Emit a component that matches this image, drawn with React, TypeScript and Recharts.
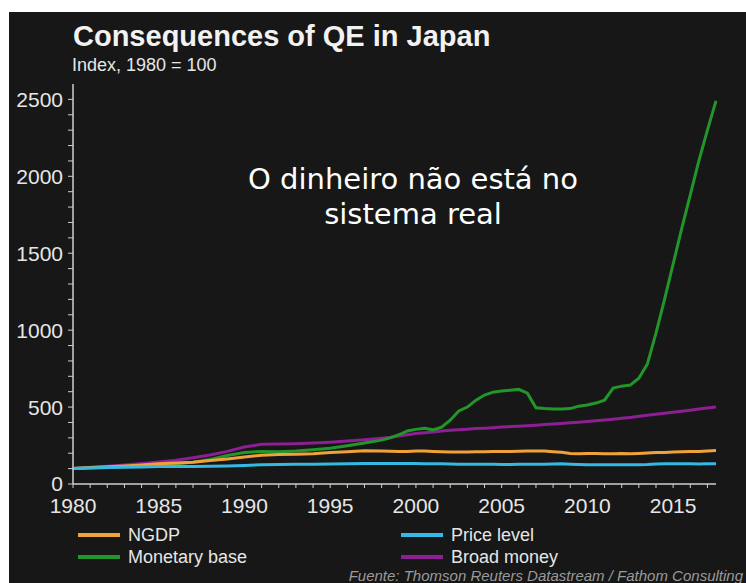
import React from 'react';
import { LineChart, Line, XAxis, YAxis } from 'recharts';

const years = [
  1980, 1981, 1982, 1983, 1984, 1985, 1986, 1987, 1988, 1989, 1990, 1991, 1992, 1993, 1994, 1995, 1996, 1997, 1998,
  1998.5, 1999, 1999.5, 2000, 2000.5, 2001, 2001.5, 2002, 2002.5, 2003, 2003.5, 2004, 2004.5, 2005, 2005.5,
  2006, 2006.5, 2007, 2007.5, 2008, 2008.5, 2009, 2009.5, 2010, 2010.5, 2011, 2011.5, 2012, 2012.5, 2013,
  2013.5, 2014, 2014.5, 2015, 2015.5, 2016, 2016.5, 2017, 2017.5,
];

const ngdp = [
  100, 107, 112, 117, 124, 131, 136, 142, 152, 163, 175, 187, 192, 194, 196, 205, 210, 216, 214,
  213, 212, 212, 214, 214, 212, 210, 208, 208, 208, 209, 210, 211, 211, 212, 213, 214, 215, 214, 210,
  206, 198, 196, 198, 199, 196, 196, 198, 197, 199, 201, 204, 205, 208, 210, 211, 212, 215, 217,
];

const priceLevel = [
  100, 104, 107, 109, 111, 113, 114, 114, 115, 117, 121, 125, 127, 128, 129, 130, 131, 133, 134,
  134, 133, 133, 133, 132, 132, 131, 130, 129, 129, 128, 128, 128, 127, 127, 128, 128, 128, 129, 130,
  131, 128, 126, 125, 125, 125, 125, 125, 125, 125, 126, 130, 131, 131, 131, 131, 130, 131, 131,
];

const monetaryBase = [
  100, 104, 108, 113, 118, 124, 132, 142, 160, 185, 205, 212, 210, 214, 222, 232, 248, 266, 285,
  300, 320, 345, 355, 362, 352, 370, 415, 475, 500, 545, 578, 597, 604, 610, 615, 590, 495, 490, 488,
  487, 490, 506, 513, 526, 545, 623, 636, 643, 688, 780, 980, 1200, 1430, 1660, 1880, 2100, 2300, 2490,
];

const broadMoney = [
  100, 108, 116, 124, 133, 143, 155, 170, 188, 212, 240, 258, 260, 262, 266, 272, 280, 288, 298,
  304, 312, 320, 328, 333, 338, 344, 350, 353, 356, 360, 363, 366, 370, 373, 375, 378, 382, 386, 390,
  394, 398, 402, 406, 411, 416, 421, 427, 433, 440, 447, 453, 460, 466, 473, 480, 487, 494, 500,
];

const xTicks = [
  1980, 1981, 1982, 1983, 1984, 1985, 1986, 1987, 1988, 1989, 1990, 1991, 1992, 1993, 1994, 1995, 1996,
  1997, 1998, 1999, 2000, 2001, 2002, 2003, 2004, 2005, 2006, 2007, 2008, 2009, 2010, 2011, 2012, 2013,
  2014, 2015, 2016, 2017,
];
const xLabels = [1980, 1985, 1990, 1995, 2000, 2005, 2010, 2015];

const yTicks = [
  0, 100, 200, 300, 400, 500, 600, 700, 800, 900, 1000, 1100, 1200, 1300, 1400, 1500, 1600, 1700, 1800,
  1900, 2000, 2100, 2200, 2300, 2400, 2500,
];
const yLabels = [0, 500, 1000, 1500, 2000, 2500];

const seriesInfo = [
  { key: 'broad', name: 'Broad money', color: '#8c1f93' },
  { key: 'base', name: 'Monetary base', color: '#23962a' },
  { key: 'ngdp', name: 'NGDP', color: '#f0a23a' },
  { key: 'price', name: 'Price level', color: '#33b9e3' },
];

const data = years.map((y, i) => ({
  year: y,
  ngdp: ngdp[i],
  price: priceLevel[i],
  base: monetaryBase[i],
  broad: broadMoney[i],
}));

const textColor = '#e6e6e6';
const font = '"Liberation Sans", Arial, sans-serif';

const LegendItem = ({ name, color, left, top }: any) => (
  <div style={{ position: 'absolute', left, top, display: 'flex', alignItems: 'center' }}>
    <div style={{ width: 42, height: 4, background: color, marginRight: 8 }} />
    <span style={{ color: textColor, fontSize: 18, fontFamily: font, lineHeight: '20px' }}>{name}</span>
  </div>
);

export default function App() {
  const colorOf = (k: string) => seriesInfo.find((s) => s.key === k)!.color;
  return (
    <div
      style={{
        position: 'absolute',
        left: 9,
        top: 12,
        width: 737,
        height: 571,
        background: '#171717',
        overflow: 'hidden',
        fontFamily: font,
      }}
    >
      <div style={{ position: 'absolute', left: 64, top: 8, color: '#f2f2f2', fontSize: 29, fontWeight: 'bold' }}>
        Consequences of QE in Japan
      </div>
      <div style={{ position: 'absolute', left: 63, top: 43, color: textColor, fontSize: 18 }}>
        Index, 1980 = 100
      </div>

      <LineChart
        width={737}
        height={571}
        data={data}
        margin={{ top: 72, right: 30, left: 0, bottom: 69 }}
      >
        <XAxis
          dataKey="year"
          type="number"
          domain={[1980, 2017.5]}
          ticks={xTicks}
          interval={0}
          height={30}
          tickFormatter={(v: number) => (xLabels.includes(v) ? String(v) : '')}
          tick={{ fill: textColor, fontSize: 21, fontFamily: font }}
          tickSize={4}
          tickMargin={10}
          axisLine={{ stroke: '#cfcfcf', strokeWidth: 1.5 }}
          tickLine={{ stroke: '#cfcfcf' }}
        />
        <YAxis
          type="number"
          domain={[0, 2600]}
          ticks={yTicks}
          interval={0}
          width={64}
          tickFormatter={(v: number) => (yLabels.includes(v) ? String(v) : '')}
          tick={{ fill: textColor, fontSize: 21, fontFamily: font }}
          tickSize={5}
          tickMargin={5}
          axisLine={{ stroke: '#cfcfcf', strokeWidth: 1.5 }}
          tickLine={{ stroke: '#cfcfcf' }}
        />
        <Line type="linear" dataKey="broad" stroke={colorOf('broad')} strokeWidth={3} dot={false} isAnimationActive={false} />
        <Line type="linear" dataKey="base" stroke={colorOf('base')} strokeWidth={3} dot={false} isAnimationActive={false} />
        <Line type="linear" dataKey="ngdp" stroke={colorOf('ngdp')} strokeWidth={3} dot={false} isAnimationActive={false} />
        <Line type="linear" dataKey="price" stroke={colorOf('price')} strokeWidth={3} dot={false} isAnimationActive={false} />
      </LineChart>

      <div
        style={{
          position: 'absolute',
          left: 204,
          top: 150,
          width: 400,
          textAlign: 'center',
          color: '#ffffff',
          fontFamily: '"DejaVu Sans", Verdana, sans-serif',
          fontSize: 29,
          lineHeight: '35px',
        }}
      >
        O dinheiro não está no
        <br />
        sistema real
      </div>

      <LegendItem name="NGDP" color={colorOf('ngdp')} left={69} top={513} />
      <LegendItem name="Monetary base" color={colorOf('base')} left={69} top={535} />
      <LegendItem name="Price level" color={colorOf('price')} left={392} top={513} />
      <LegendItem name="Broad money" color={colorOf('broad')} left={392} top={535} />

      <div
        style={{
          position: 'absolute',
          right: 3,
          top: 555,
          color: '#9a9a9a',
          fontSize: 15,
          fontStyle: 'italic',
        }}
      >
        Fuente: Thomson Reuters Datastream / Fathom Consulting
      </div>
    </div>
  );
}
